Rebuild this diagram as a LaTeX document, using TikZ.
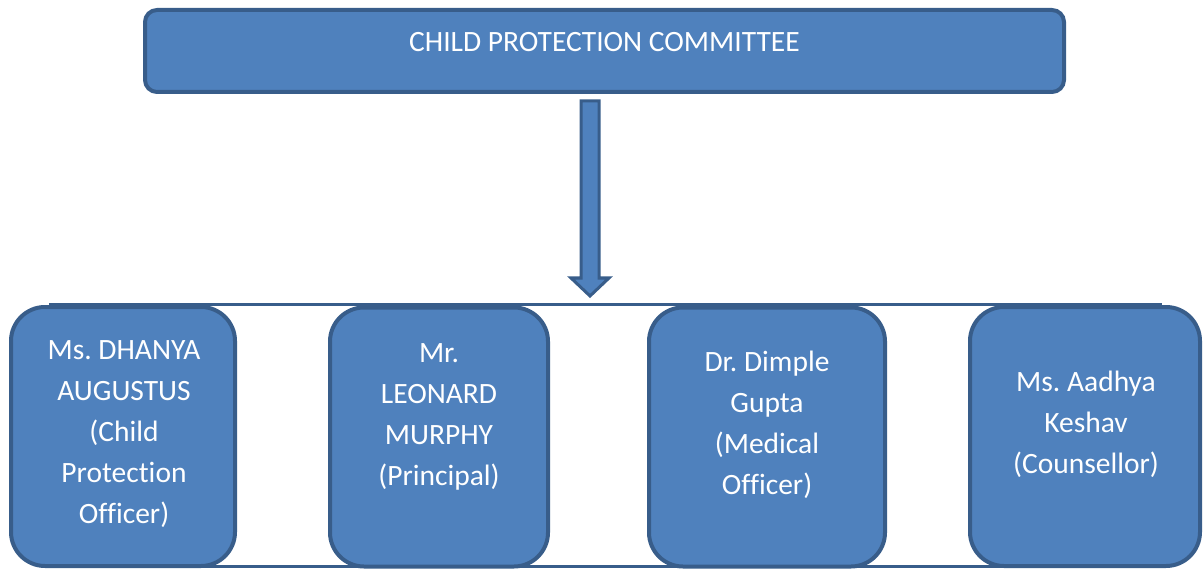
\documentclass[tikz,border=0pt]{standalone}
\usepackage{fontspec}
\setmainfont{Carlito}[Ligatures=NoCommon]
\frenchspacing
\definecolor{boxfill}{HTML}{4F81BD}
\definecolor{boxline}{HTML}{385D8A}
\tikzstyle{titlebox}=[draw=boxline,fill=boxfill,line width=4pt,rounded corners=12pt,text=white,font=\fontsize{29.5}{35}\selectfont,minimum width=919pt,minimum height=82pt,text depth=18pt]
\tikzstyle{member}=[draw=boxline,fill=boxfill,line width=4pt,rounded corners=34pt,minimum height=259pt,inner sep=0pt]
\tikzstyle{membertext}=[text=white,align=center,font=\fontsize{29.5}{41}\selectfont]

\begin{document}
\begin{tikzpicture}[x=1pt,y=-1pt]
    \useasboundingbox (0,0) rectangle (1204,569);
    \node[titlebox] (cpc) at (604.5,51) {CHILD PROTECTION COMMITTEE};

    % block arrow down to the members
    \coordinate (atop) at (590,101);
    \coordinate (atip) at (590,296);
    \draw[boxline,line width=3pt,fill=boxfill,line join=miter]
        ([xshift=-9pt]atop) -- ([xshift=9pt]atop) -- ([xshift=9pt,yshift=18pt]atip)
        -- ([xshift=19pt,yshift=18pt]atip) -- (atip) -- ([xshift=-19pt,yshift=18pt]atip)
        -- ([xshift=-9pt,yshift=18pt]atip) -- cycle;

    % frame round the members
    \draw[boxline,line width=3pt] (50,304) rectangle (1160,566);

    \node[member,minimum width=224pt] (dhanya) at (123,436.5) {};
    \node[member,minimum width=218pt] (leonard) at (439,437) {};
    \node[member,minimum width=236pt] (dimple) at (767,437) {};
    \node[member,minimum width=230pt] (aadhya) at (1085,436.5) {};

    \node[membertext] (dhanyatext) at (124,434.5) {Ms. DHANYA\\AUGUSTUS\\(Child\\Protection\\Officer)};
    \node[membertext] (leonardtext) at (439,417) {Mr.\\LEONARD\\MURPHY\\(Principal)};
    \node[membertext] (dimpletext) at (767,424.5) {Dr. Dimple\\Gupta\\(Medical\\Officer)};
    \node[membertext] (aadhyatext) at (1086,424) {Ms. Aadhya\\Keshav\\(Counsellor)};
\end{tikzpicture}
\end{document}
